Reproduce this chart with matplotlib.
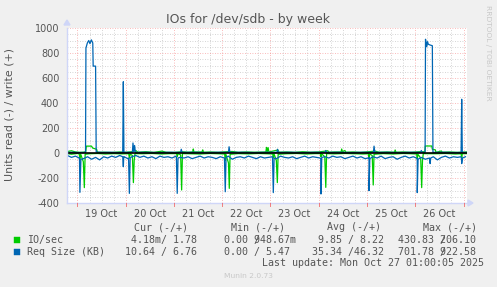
import numpy as np
import matplotlib
matplotlib.use("Agg")
import matplotlib.pyplot as plt
from matplotlib.patches import Rectangle, Polygon

# ---------------- data (hours since 19 Oct 00:00) ----------------
day_labels = ["19 Oct", "20 Oct", "21 Oct", "22 Oct", "23 Oct", "24 Oct", "25 Oct", "26 Oct"]
y_ticks = [-400, -200, 0, 200, 400, 600, 800, 1000]
y_tick_labels = ["-400", "-200", "0", "200", "400", "600", "800", "1000"]

# Req Size (KB), read (drawn negative): baseline every 2 h from -5 h
req_read_base = [
    -20, -35, -25, -40, -45, -30, -50, -35, -55, -30,
    -40, -25, -35, -20, -30, -45, -30, -20, -35, -25,
    -40, -30, -45, -25, -35, -30, -40, -25, -35, -40,
    -30, -45, -35, -25, -40, -30, -35, -45, -30, -40,
    -25, -50, -35, -30, -40, -25, -35, -45, -30, -40,
    -35, -30, -45, -25, -35, -40, -30, -45, -35, -25,
    -40, -30, -35, -45, -30, -40, -25, -35, -30, -45,
    -35, -25, -40, -30, -45, -35, -30, -40, -25, -45,
    -35, -30, -50, -35, -25, -40, -30, -45, -35, -50,
    -40, -30, -55, -35, -25, -40, -30, -35, -45, -30,
]
req_read_spikes = [
    (0.8, -40), (1.2, -315), (1.7, -50), (22.5, -30), (22.8, -110), (23.2, -30),
    (25.4, -40), (25.8, -323), (26.2, -40), (49.2, -35), (49.6, -323), (50.0, -40),
    (73.1, -40), (73.5, -310), (73.9, -35), (97.0, -35), (97.4, -317), (97.8, -40),
    (120.7, -40), (121.1, -328), (121.5, -35), (144.6, -40), (145.0, -301), (145.4, -45),
    (168.6, -40), (169.0, -317), (169.4, -50), (175.1, -40), (175.4, -85), (175.7, -40),
    (190.7, -30), (191.1, -85), (191.5, -40),
]

# Req Size (KB), write (positive)
req_write = [
    (-5, 5), (-2, 6), (1, 4), (4.0, 5), (4.2, 840), (4.9, 880), (5.6, 900), (6.2, 875),
    (6.9, 905), (7.6, 880), (7.8, 695), (9.0, 695), (9.3, 8), (12, 5), (16, 6), (20, 4),
    (22.5, 5), (22.8, 570), (23.1, 6), (27.3, 5), (27.6, 80), (28.0, 10), (28.4, 60),
    (28.8, 5), (33, 6), (40, 4), (46, 6), (51.3, 5), (51.6, 30), (52.0, 5), (58, 6),
    (64, 4), (70, 6), (75.1, 5), (75.4, 50), (75.8, 5), (82, 6), (88, 4), (94, 6),
    (99.2, 5), (99.5, 30), (99.9, 5), (106, 6), (112, 4), (118, 6), (123.2, 5),
    (123.5, 20), (123.9, 5), (130, 6), (136, 4), (142, 6), (147.2, 5), (147.5, 55),
    (147.9, 5), (154, 6), (160, 4), (166, 6), (170.7, 5), (171.0, 20), (171.4, 5),
    (172.9, 5), (173.1, 910), (173.7, 850), (174.1, 890), (174.5, 870), (175.2, 865),
    (176.5, 858), (176.8, 5), (182, 6), (188, 4), (190.8, 5), (191.1, 430), (191.4, 5),
    (193.7, 5),
]

# IO/sec, read (drawn negative)
io_read = [
    (-5, -5), (-3, -10), (0, -4), (0.9, -8), (1.2, -60), (1.6, -10), (2.9, -70),
    (3.4, -277), (3.8, -10), (6, -6), (10, -4), (14, -8), (18, -5), (22, -7),
    (25.5, -6), (25.8, -40), (26.2, -8), (27.3, -20), (27.8, -237), (28.2, -60),
    (28.6, -5), (32, -6), (37, -4), (42, -8), (46, -5), (49.3, -5), (49.6, -30),
    (50, -5), (51.3, -15), (51.8, -296), (52.2, -5), (56, -6), (61, -8), (66, -4),
    (70, -6), (73.2, -8), (73.5, -60), (73.8, -10), (75.1, -80), (75.5, -283),
    (75.9, -10), (80, -5), (85, -7), (90, -4), (94, -6), (97.1, -8), (97.4, -40),
    (97.7, -5), (98.9, -60), (99.4, -237), (99.8, -10), (104, -6), (109, -4),
    (114, -8), (118, -5), (120.8, -5), (121.1, -30), (121.4, -6), (123.0, -30),
    (123.5, -275), (123.9, -5), (128, -7), (133, -4), (138, -6), (142, -8),
    (144.7, -6), (145.0, -40), (145.3, -8), (146.6, -20), (147.1, -256), (147.5, -10),
    (152, -5), (157, -8), (162, -4), (166, -6), (168.7, -8), (169.0, -50), (169.3, -10),
    (170.7, -40), (171.2, -277), (171.6, -60), (172.0, -5), (178, -6), (183, -4),
    (188, -8), (190.8, -6), (191.1, -40), (191.4, -6), (193.7, -5),
]

# IO/sec, write (positive)
io_write = [
    (-5, 12), (-3, 18), (-1, 8), (1, 5), (3, 6), (4.1, 10), (4.4, 55), (7.0, 55),
    (7.5, 40), (9.5, 30), (9.9, 5), (13, 6), (17, 4), (21, 8), (24, 5), (27, 10),
    (29, 20), (30, 6), (34, 10), (38, 5), (42, 15), (44, 6), (48, 4), (52, 10),
    (55, 6), (57.3, 8), (57.6, 32), (57.9, 8), (61.9, 8), (62.3, 25), (62.7, 6),
    (66, 8), (70, 5), (74, 10), (77, 12), (80, 5), (84, 8), (88, 6), (93.7, 8),
    (94.0, 45), (94.4, 10), (94.8, 43), (95.2, 8), (99.7, 24), (100.2, 6), (104, 8),
    (108, 5), (112, 10), (116, 6), (120, 8), (124.5, 18), (125, 6), (128, 8),
    (131.1, 8), (131.4, 32), (131.8, 10), (133, 20), (133.5, 6), (137, 8), (141, 5),
    (145, 10), (148, 15), (150, 6), (154, 8), (157.7, 6), (158.0, 24), (158.4, 6),
    (162, 8), (166, 5), (170, 10), (172.8, 10), (173.0, 56), (176.2, 56), (176.5, 30),
    (178.0, 25), (178.3, 5), (181, 16), (181.4, 6), (185, 8), (189, 5), (193.7, 8),
]

legend_rows = [
    ("IO/sec", "#00CC00", "4.18m/ 1.78", "0.00 948.67m", 5, "9.85 / 8.22", "430.83 206.10", 7),
    ("Req Size (KB)", "#0066B3", "10.64 / 6.76", "0.00 / 5.47", None, "35.34 /46.32", "701.78 922.58", 7),
]
last_update = "Last update: Mon Oct 27 01:00:05 2025"

# ---------------- figure ----------------
W, H = 497, 287
TXT = "#555555"
fig = plt.figure(figsize=(W / 100, H / 100), dpi=100, facecolor="#F0F0F0")
L, R, T, B = 67, 467, 28, 203
ax = fig.add_axes([L / W, 1 - B / H, (R - L) / W, (B - T) / H])
ax.set_facecolor("white")
x0, x1 = -5.22, 193.74
ax.set_xlim(x0, x1)
ax.set_ylim(-400, 1000)
for s in ax.spines.values():
    s.set_visible(False)

# grid
minor_col = (0.6, 0.6, 0.6, 0.55)
major_col = (0.95, 0.35, 0.35, 0.55)
dots = (0, (1, 2))
for h in np.arange(-0, 194, 6):
    if h % 24:
        ax.axvline(h, color=minor_col, lw=0.6, ls=dots, zorder=0)
for v in range(-400, 1001, 50):
    if v % 200:
        ax.axhline(v, color=minor_col, lw=0.6, ls=dots, zorder=0)
for h in np.arange(0, 194, 24):
    ax.axvline(h, color=major_col, lw=0.6, ls=dots, zorder=0.5)
for v in y_ticks:
    ax.axhline(v, color=major_col, lw=0.6, ls=dots, zorder=0.5)

# series
def pairs(p):
    a = np.array(p, dtype=float)
    return a[:, 0], a[:, 1]

rb_t = np.arange(-5, 194, 2)[: len(req_read_base)]
rs_t, rs_v = pairs(req_read_spikes)
rr_t = np.concatenate([rb_t, rs_t])
rr_v = np.concatenate([np.array(req_read_base, float), rs_v])
order = np.argsort(rr_t, kind="stable")
rr_t, rr_v = rr_t[order], rr_v[order]

green = "#00CC00"
blue = "#0066B3"
lw = 0.9
t, v = pairs(io_read)
ax.plot(t, v, color=green, lw=lw, zorder=2)
t, v = pairs(io_write)
ax.plot(t, v, color=green, lw=lw, zorder=2)
ax.plot(rr_t, rr_v, color=blue, lw=lw, zorder=3)
t, v = pairs(req_write)
ax.plot(t, v, color=blue, lw=lw, zorder=3)
ax.axhline(0, color="black", lw=1.2, zorder=4)

# ticks
ax.set_xticks([12 + 24 * i for i in range(len(day_labels))])
ax.set_xticklabels(day_labels)
ax.set_yticks(y_ticks)
ax.set_yticklabels(y_tick_labels)
ax.tick_params(axis="both", length=0, labelsize=7, labelcolor=TXT)
ax.tick_params(axis="y", pad=5.5)
ax.tick_params(axis="x", pad=4.0)

# axis lines and arrows
axis_col = "#CFD6F8"
ax.plot([x0, x0], [-400, 1000], color=axis_col, lw=1.0, clip_on=False, zorder=5)
ax.plot([x0, x1 + 1.0], [-400, -400], color=axis_col, lw=1.0, clip_on=False, zorder=5)
fig.patches.append(Polygon([[(L - 3) / W, 1 - 25 / H], [(L + 3) / W, 1 - 25 / H], [L / W, 1 - 20 / H]],
                           closed=True, transform=fig.transFigure, color=axis_col, zorder=6))
fig.patches.append(Polygon([[(R + 1) / W, 1 - (B - 3) / H], [(R + 1) / W, 1 - (B + 3) / H], [(R + 6) / W, 1 - B / H]],
                           closed=True, transform=fig.transFigure, color=axis_col, zorder=6))
# major tick marks on the bottom axis
for h in np.arange(0, 194, 24):
    ax.plot([h, h], [-400, -424], color=(0.95, 0.3, 0.3, 0.7), lw=0.7, clip_on=False, zorder=5)

# titles
fig.text(248.5 / W, 1 - 19.5 / H, "IOs for /dev/sdb - by week", ha="center", va="center",
         fontsize=9, color=TXT)
fig.text(10 / W, 1 - 114 / H, "Units read (-) / write (+)", ha="center", va="center",
         rotation=90, fontsize=7.9, color=TXT)
fig.text(488 / W, 1 - 53 / H, "RRDTOOL / TOBI OETIKER", ha="center", va="center",
         rotation=270, fontsize=5.4, color="#C8C8C8")
fig.text(248 / W, 1 - 276 / H, "Munin 2.0.73", ha="center", va="center",
         fontsize=5.4, color="#C8C8C8")

# legend (monospace)
mono = dict(family="DejaVu Sans Mono", fontsize=7.2, color=TXT, va="center", ha="left")
fig.text(134 / W, 1 - 227 / H, "Cur (-/+)", **mono)
fig.text(231 / W, 1 - 227 / H, "Min (-/+)", **mono)
fig.text(327 / W, 1 - 227 / H, "Avg (-/+)", **mono)
fig.text(423 / W, 1 - 227 / H, "Max (-/+)", **mono)

cur_x = [131, 125]
avg_x = [318, 312]
for i, (name, col, cur, mn, mn_sl, avg, mx, mx_sl) in enumerate(legend_rows):
    yc = 240 + 12 * i
    fig.patches.append(Rectangle((14 / W, 1 - (yc + 3) / H), 6 / W, 6 / H,
                                 transform=fig.transFigure, facecolor=col, edgecolor=col, lw=0.3))
    fig.text(26.7 / W, 1 - yc / H, name, **mono)
    fig.text(cur_x[i] / W, 1 - yc / H, cur, **mono)
    fig.text(224 / W, 1 - yc / H, mn, **mono)
    if mn_sl is not None:
        fig.text(224 / W, 1 - yc / H, " " * mn_sl + "/", **mono)
    fig.text(avg_x[i] / W, 1 - yc / H, avg, **mono)
    fig.text(398 / W, 1 - yc / H, mx, **mono)
    fig.text(398 / W, 1 - yc / H, " " * mx_sl + "/", **mono)

fig.text(262 / W, 1 - 263 / H, last_update, **mono)

fig.savefig("out.png", dpi=100, facecolor=fig.get_facecolor())
